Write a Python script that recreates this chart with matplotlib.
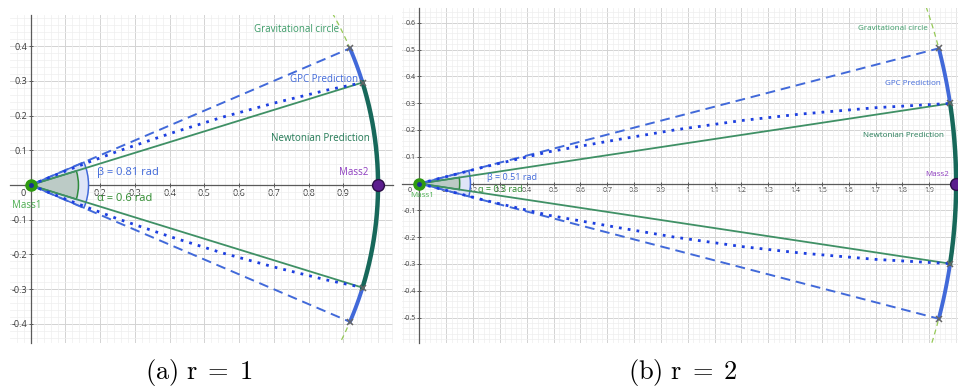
import numpy as np
import matplotlib
matplotlib.use("Agg")
import matplotlib.pyplot as plt
from matplotlib.patches import Wedge
from matplotlib.ticker import MultipleLocator, FixedLocator, FormatStrFormatter

plt.rcParams['font.family'] = ['Open Sans', 'DejaVu Sans']
plt.rcParams['mathtext.fontset'] = 'cm'

# data
radii = [1, 2]
alphas = [0.6, 0.3]          # Newtonian angle (rad)
betas = [0.81, 0.51]         # GPC angle (rad)
captions = ["(a)", "(b)"]

# dotted GPC path, read point by point
dotted_x_r1 = [0, 0.12, 0.25, 0.4, 0.55, 0.7, 0.85, 0.955]
dotted_y_r1 = [0, 0.048, 0.097, 0.148, 0.195, 0.236, 0.273, 0.295]
dotted_x_r2 = [0, 0.25, 0.485, 0.75, 0.951, 1.2, 1.418, 1.7, 1.978]
dotted_y_r2 = [0, 0.064, 0.119, 0.166, 0.200, 0.235, 0.259, 0.283, 0.299]

xticks_r1 = [0.1, 0.2, 0.3, 0.4, 0.5, 0.6, 0.7, 0.8, 0.9]
yticks_r1 = [-0.4, -0.3, -0.2, -0.1, 0.1, 0.2, 0.3, 0.4]
xticks_r2 = [0.1, 0.2, 0.3, 0.4, 0.5, 0.6, 0.7, 0.8, 0.9, 1, 1.1, 1.2, 1.3,
             1.4, 1.5, 1.6, 1.7, 1.8, 1.9]
yticks_r2 = [-0.5, -0.4, -0.3, -0.2, -0.1, 0.1, 0.2, 0.3, 0.4, 0.5, 0.6]

BLUE = "#4169d9"
DOT_BLUE = "#1d3fe0"
NEWT = "#3f9065"
TEAL = "#17685a"
LIGHTGREEN = "#95c957"


def draw_panel(ax, r, alpha, beta, dx, dy, xticks, yticks, lay):
    ax.set_xlim(lay["xlim"])
    ax.set_ylim(lay["ylim"])
    for s in ["top", "right"]:
        ax.spines[s].set_visible(False)
    ax.spines["left"].set_position(("data", 0))
    ax.spines["bottom"].set_position(("data", 0))
    for s in ["left", "bottom"]:
        ax.spines[s].set_color("#5a5a5a")
        ax.spines[s].set_linewidth(0.9)
    ax.xaxis.set_major_locator(FixedLocator(xticks))
    ax.yaxis.set_major_locator(FixedLocator(yticks))
    ax.xaxis.set_major_formatter(FormatStrFormatter("%g"))
    ax.yaxis.set_major_formatter(FormatStrFormatter("%g"))
    ax.xaxis.set_minor_locator(MultipleLocator(0.02))
    ax.yaxis.set_minor_locator(MultipleLocator(0.02))
    ax.tick_params(which="major", direction="inout", length=3, width=0.7,
                   color="#5a5a5a", labelsize=lay["tick_fs"], labelcolor="#3a3a3a", pad=1)
    ax.tick_params(which="minor", length=0)
    # major grid drawn as lines so that it spans the whole panel
    for v in np.arange(-1, 2.5, 0.1):
        ax.axvline(v, color="#d3d3d3", lw=0.7, zorder=0)
        ax.axhline(v, color="#d3d3d3", lw=0.7, zorder=0)
    ax.grid(which="minor", color="#eeeeee", lw=0.5, zorder=0)
    ax.set_axisbelow(True)
    ax.text(lay["zero"][0], lay["zero"][1], "0", fontsize=lay["tick_fs"],
            color="#3a3a3a", ha="center", va="center")

    a2, b2 = alpha / 2, beta / 2
    # gravitational circle
    t = np.linspace(0, 2 * np.pi, 2000)
    ax.plot(r * np.cos(t), r * np.sin(t), color=LIGHTGREEN, lw=0.9,
            dashes=(4, 3), zorder=2)

    # angle sectors
    ax.add_patch(Wedge((0, 0), lay["rb"], -np.degrees(b2), np.degrees(b2),
                       facecolor="#dfe5f7", edgecolor=BLUE, lw=1.1, zorder=3))
    ax.add_patch(Wedge((0, 0), lay["ra"], -np.degrees(a2), np.degrees(a2),
                       facecolor="#bccbc6", edgecolor="#2e8b3a", lw=1.1, zorder=3))

    for sgn in (1, -1):
        # Newtonian straight line
        ax.plot([0, r * np.cos(a2)], [0, sgn * r * np.sin(a2)], color=NEWT,
                lw=1.3, zorder=4)
        # GPC straight dashed line
        ax.plot([0, r * np.cos(b2)], [0, sgn * r * np.sin(b2)], color=BLUE,
                lw=1.4, dashes=(5, 3), zorder=4)
        # dotted path
        ax.plot(dx, sgn * np.array(dy), color=DOT_BLUE, lw=2.0,
                linestyle=(0, (1, 2.2)), zorder=4)
        # blue thick arc between alpha and beta
        tb = np.linspace(a2, b2, 100)
        ax.plot(r * np.cos(tb), sgn * r * np.sin(tb), color=BLUE, lw=2.8,
                solid_capstyle="round", zorder=5)
        ax.plot([r * np.cos(a2), r * np.cos(b2)],
                [sgn * r * np.sin(a2), sgn * r * np.sin(b2)], "x",
                color="#666666", ms=5, mew=1.1, zorder=7)
    ta = np.linspace(-a2, a2, 200)
    ax.plot(r * np.cos(ta), r * np.sin(ta), color=TEAL, lw=3.2, zorder=6)

    # masses
    ax.plot(0, 0, "o", color="#2e9a10", ms=8, zorder=8)
    ax.plot(0, 0, "o", color="#1a2f9a", ms=2.5, zorder=9)
    ax.plot(r, 0, "o", color="#5c1d8e", mec="#2a0d45", ms=8.5, zorder=8)

    fs = lay["lab_fs"]
    ax.text(*lay["grav"], "Gravitational circle", color="#3a9a66", fontsize=fs,
            ha="center", va="center", zorder=9)
    ax.text(*lay["gpc"], "GPC Prediction", color=BLUE, fontsize=fs,
            ha="center", va="center", zorder=9)
    ax.text(*lay["newt"], "Newtonian Prediction", color="#237a55", fontsize=fs,
            ha="center", va="center", zorder=9)
    ax.text(*lay["mass2"], "Mass2", color="#8e3cc0", fontsize=fs,
            ha="center", va="center", zorder=9)
    ax.text(*lay["mass1"], "Mass1", color="#4caf50", fontsize=fs,
            ha="center", va="center", zorder=9)
    ax.text(*lay["beta"], "β = %g rad" % beta, color=BLUE,
            fontsize=lay["ang_fs"], ha="left", va="center", zorder=9)
    ax.text(*lay["alpha"], "α = %g rad" % alpha, color="#2e8b2e",
            fontsize=lay["ang_fs"], ha="left", va="center", zorder=9)


fig = plt.figure(figsize=(9.58, 3.91), dpi=100)
ax1 = fig.add_axes([10 / 958, 1 - 343 / 391, 383 / 958, 328 / 391])
ax2 = fig.add_axes([402 / 958, 1 - 343 / 391, 556 / 958, 335 / 391])

lay1 = dict(xlim=(-0.059, 1.043), ylim=(-0.455, 0.490), tick_fs=6.5,
            lab_fs=7, ang_fs=8, zero=(-0.02, -0.024), rb=0.167, ra=0.138,
            grav=(0.765, 0.447), gpc=(0.845, 0.305), newt=(0.833, 0.135),
            mass2=(0.93, 0.035), mass1=(-0.01, -0.06),
            beta=(0.19, 0.035), alpha=(0.19, -0.04))
lay2 = dict(xlim=(-0.065, 2.007), ylim=(-0.595, 0.655), tick_fs=5,
            lab_fs=5.8, ang_fs=6.5, zero=(-0.035, -0.025), rb=0.19, ra=0.15,
            grav=(1.765, 0.578), gpc=(1.84, 0.373), newt=(1.805, 0.18),
            mass2=(1.93, 0.035), mass1=(0.01, -0.045),
            beta=(0.25, 0.022), alpha=(0.22, -0.022))

draw_panel(ax1, radii[0], alphas[0], betas[0], dotted_x_r1, dotted_y_r1,
           xticks_r1, yticks_r1, lay1)
draw_panel(ax2, radii[1], alphas[1], betas[1], dotted_x_r2, dotted_y_r2,
           xticks_r2, yticks_r2, lay2)

for cap, r, xc in zip(captions, radii, [199, 683]):
    fig.text(xc / 958, 1 - 372 / 391, r"$\mathrm{%s\ r}\;=\;%d$" % (cap, r),
             fontsize=19, ha="center", va="center")

fig.savefig("out.png", dpi=100)
